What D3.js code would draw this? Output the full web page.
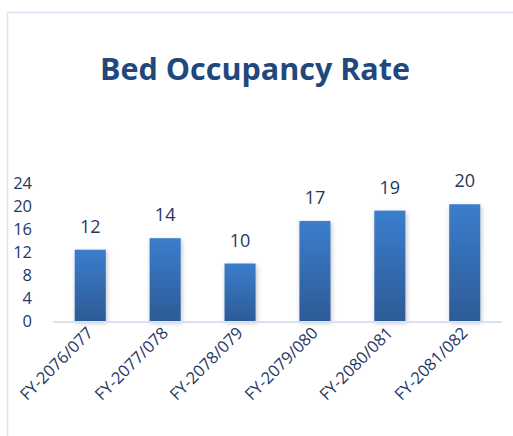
<!DOCTYPE html>
<html>
<head>
<meta charset="utf-8">
<script src="https://cdn.jsdelivr.net/npm/d3@7"></script>
<style>
  body { margin: 0; background: #fff; }
  svg { display: block; font-family: "Open Sans", sans-serif; }
</style>
</head>
<body>
<div class="graph"></div>
<script>
// Chart data
const years = ['FY-2076/077', 'FY-2077/078', 'FY-2078/079', 'FY-2079/080', 'FY-2080/081', 'FY-2081/082'];
const occupancy = [12.4, 14.4, 10.0, 17.4, 19.2, 20.3];
const yTicks = [0, 4, 8, 12, 16, 20, 24];

const width = 513;
const height = 436;

const svg = d3.select('.graph')
  .append('svg')
  .attr('width', width)
  .attr('height', height);

// Gradient for bars
const defs = svg.append('defs');
const grad = defs.append('linearGradient')
  .attr('id', 'barGrad')
  .attr('x1', 0).attr('y1', 0).attr('x2', 0).attr('y2', 1);
grad.append('stop').attr('offset', '0%').attr('stop-color', '#3b7dcc');
grad.append('stop').attr('offset', '100%').attr('stop-color', '#2d5b97');

const shadow = defs.append('filter')
  .attr('id', 'shadow')
  .attr('x', '-30%').attr('y', '-10%').attr('width', '160%').attr('height', '130%');
shadow.append('feDropShadow')
  .attr('dx', 1).attr('dy', 2).attr('stdDeviation', 2.5)
  .attr('flood-color', '#000').attr('flood-opacity', 0.25);

// Chart frame (clipped by the window on right and bottom)
svg.append('rect')
  .attr('x', 7.5)
  .attr('y', 12.5)
  .attr('width', 600)
  .attr('height', 500)
  .attr('fill', 'none')
  .attr('stroke', '#d9e4f3')
  .attr('stroke-width', 1.5);

// Title
svg.append('text')
  .attr('x', 255)
  .attr('y', 80)
  .attr('text-anchor', 'middle')
  .attr('font-size', '30.5px')
  .attr('font-weight', 'bold')
  .attr('fill', '#1f497d')
  .text('Bed Occupancy Rate');

// Scales
const x = d3.scaleBand()
  .domain(years)
  .range([53, 502])
  .paddingInner(0.585)
  .paddingOuter(0.29);

const y = d3.scaleLinear()
  .domain([0, 24])
  .range([321, 183]);

// Y axis labels
const yAxis = svg.append('g')
  .attr('transform', 'translate(36,0)')
  .call(d3.axisLeft(y).tickValues(yTicks).tickSize(0).tickPadding(4));
yAxis.select('.domain').remove();
yAxis.selectAll('text')
  .attr('font-size', '16.5px')
  .attr('font-family', '"Open Sans", sans-serif')
  .attr('fill', '#1f3864');

// Bars
svg.selectAll('rect.bar')
  .data(occupancy)
  .enter()
  .append('rect')
  .attr('class', 'bar')
  .attr('x', (d, i) => x(years[i]))
  .attr('y', d => y(d))
  .attr('width', x.bandwidth())
  .attr('height', d => y(0) - y(d))
  .attr('fill', 'url(#barGrad)')
  .attr('filter', 'url(#shadow)');

// X axis line
svg.append('line')
  .attr('x1', 53)
  .attr('x2', 502)
  .attr('y1', y(0) + 1)
  .attr('y2', y(0) + 1)
  .attr('stroke', '#d6e2f3')
  .attr('stroke-width', 2);

// Value labels
svg.selectAll('text.value')
  .data(occupancy)
  .enter()
  .append('text')
  .attr('class', 'value')
  .attr('x', (d, i) => x(years[i]) + x.bandwidth() / 2)
  .attr('y', d => y(d) - 17)
  .attr('text-anchor', 'middle')
  .attr('font-size', '18px')
  .attr('fill', '#1f3864')
  .text(d => d3.format('.0f')(d));

// Category labels, rotated
svg.selectAll('text.cat')
  .data(years)
  .enter()
  .append('text')
  .attr('class', 'cat')
  .attr('text-anchor', 'end')
  .attr('font-size', '16.5px')
  .attr('fill', '#1f3864')
  .attr('transform', d => `translate(${x(d) + x.bandwidth() / 2 + 4},${334}) rotate(-45)`)
  .text(d => d);
</script>
</body>
</html>
